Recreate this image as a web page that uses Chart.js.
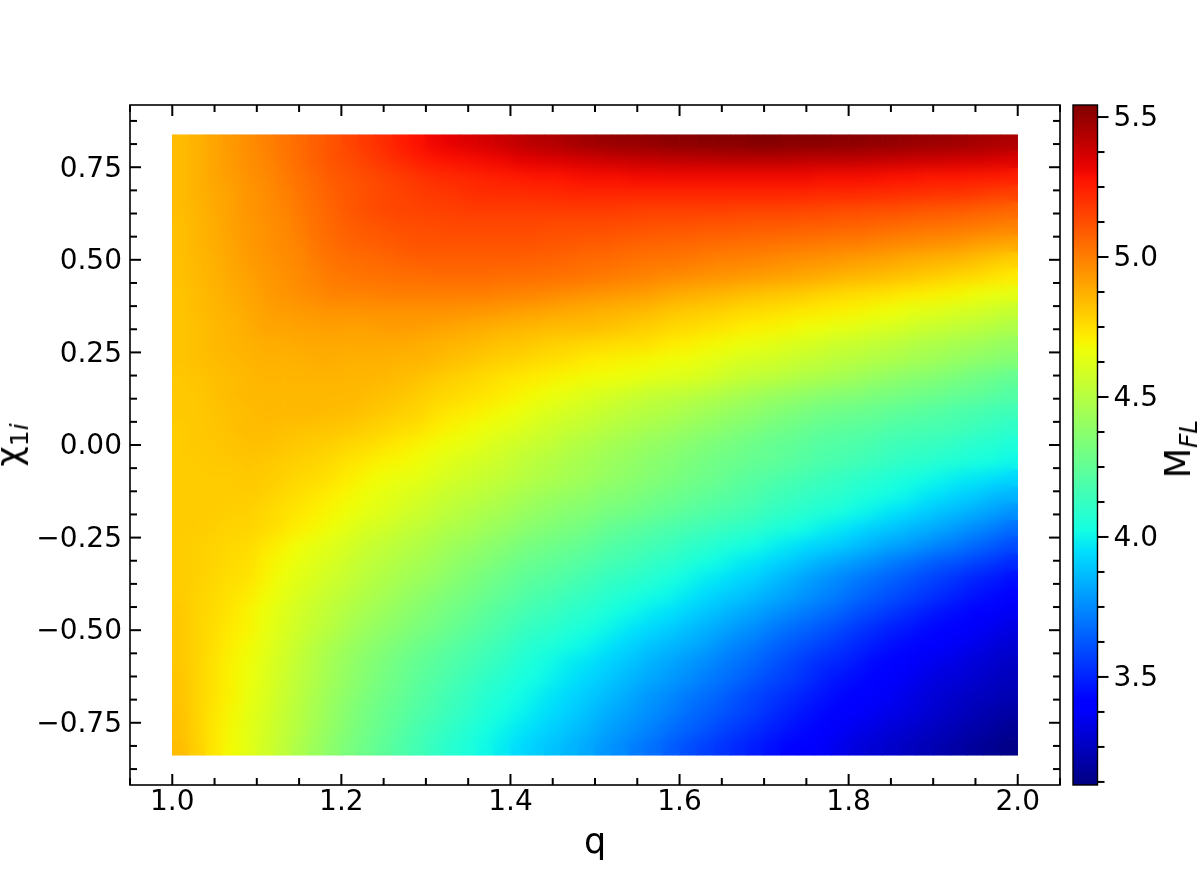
<!DOCTYPE html>
<html>
<head>
<meta charset="utf-8">
<title>M_FL map</title>
<script src="https://cdn.jsdelivr.net/npm/chart.js@4"></script>
<style>
  html, body { margin: 0; padding: 0; background: #fff; }
  #wrap { position: relative; width: 1200px; height: 882px; overflow: hidden; font-family: "DejaVu Sans", sans-serif; color: #000; }
  canvas { position: absolute; top: 0; }
  #mainChart { left: 0; }
  #barChart { left: 1060px; }
  .axisLabel { position: absolute; font-size: 35px; line-height: 40px; white-space: nowrap; transform: translate(-50%, -50%) rotate(-90deg); }
  .axisLabel sub { font-size: 25px; vertical-align: -7px; line-height: 0; }
  .axisLabel i { font-style: oblique; }
</style>
</head>
<body>
<div id="wrap">
  <canvas id="mainChart" width="1200" height="882"></canvas>
  <canvas id="barChart" width="140" height="882"></canvas>
  <div class="axisLabel" style="left:9px;top:445px">χ<sub>1<i>i</i></sub></div>
  <div class="axisLabel" style="left:1178px;top:449px">M<sub><i>FL</i></sub></div>
</div>
<script>
// cell centres of the colour map
const qCells = [1.01,1.03,1.05,1.07,1.09,1.11,1.13,1.15,1.17,1.19,1.21,1.23,1.25,1.27,1.29,1.31,1.33,1.35,1.37,1.39,1.41,1.43,1.45,1.47,1.49,1.51,1.53,1.55,1.57,1.59,1.61,1.63,1.65,1.67,1.69,1.71,1.73,1.75,1.77,1.79,1.81,1.83,1.85,1.87,1.89,1.91,1.93,1.95,1.97,1.99];
const chiCells = [0.815,0.769,0.724,0.679,0.633,0.588,0.543,0.498,0.452,0.407,0.362,0.317,0.271,0.226,0.181,0.136,0.090,0.045,0,-0.045,-0.090,-0.136,-0.181,-0.226,-0.271,-0.317,-0.362,-0.407,-0.452,-0.498,-0.543,-0.588,-0.633,-0.679,-0.724,-0.769,-0.815];

// M_FL x 100, one row per chi (top to bottom)
const mflRows = [
[484,487,490,493,496,499,502,505,508,511,515,518,521,525,528,531,533,535,537,539,541,543,544,546,548,549,550,550,551,552,552,553,553,553,554,554,553,553,553,552,552,551,551,550,549,549,548,547,546,545],
[484,487,490,493,496,498,501,505,508,511,513,516,519,522,525,527,528,529,530,531,533,534,535,536,537,538,539,540,540,541,541,541,542,542,542,542,542,541,541,541,541,540,540,539,538,538,537,537,536,535],
[484,487,490,492,495,497,500,503,506,509,511,513,515,517,519,521,522,523,524,525,526,527,527,528,529,529,529,530,530,530,530,530,530,530,530,530,530,530,529,529,529,529,528,528,527,527,527,526,526,525],
[484,487,489,491,494,496,499,502,505,508,510,512,514,515,517,518,519,520,521,521,521,522,522,523,523,523,523,523,523,523,523,523,523,523,523,523,523,523,522,522,522,521,521,520,520,519,519,518,517,516],
[484,486,489,491,494,496,498,501,504,507,510,512,514,515,515,516,516,517,517,517,517,517,517,517,517,517,517,516,516,516,516,516,516,515,515,515,515,514,514,513,513,512,512,511,510,510,509,508,507,506],
[483,486,488,491,493,495,497,500,503,506,508,510,511,512,513,513,514,514,514,514,514,514,513,513,513,513,512,512,511,511,511,510,510,510,509,509,509,508,508,507,507,506,505,504,503,503,502,501,500,499],
[483,486,488,490,493,495,497,499,502,505,507,508,509,510,511,511,511,511,511,511,511,511,510,510,509,509,508,507,507,506,506,505,505,504,504,503,502,502,501,500,500,499,498,497,496,495,494,492,491,490],
[483,485,487,490,492,494,496,498,500,503,504,505,506,507,508,508,508,508,508,508,508,507,507,506,505,505,504,503,502,502,501,500,499,499,498,497,496,495,494,493,492,491,490,488,487,486,485,483,481,479],
[483,485,487,489,491,493,495,497,499,501,502,503,503,504,504,505,505,505,505,504,504,504,503,503,502,501,500,499,498,497,496,495,494,493,492,491,490,489,488,486,485,484,483,482,480,479,477,476,474,472],
[482,484,486,488,490,492,494,496,497,499,499,499,500,500,500,500,500,500,500,499,499,498,497,496,495,494,493,492,491,489,488,487,486,484,483,482,481,480,478,477,476,475,474,472,471,470,469,467,466,464],
[482,484,486,487,489,491,492,493,494,495,495,495,495,495,495,495,495,494,494,493,492,491,490,489,488,487,486,485,484,482,481,480,479,477,476,475,474,473,472,471,470,468,467,465,463,462,460,459,457,455],
[482,483,485,486,488,490,490,491,491,492,491,491,492,492,492,491,490,489,488,487,486,485,484,484,484,483,482,480,479,477,476,475,474,472,471,470,469,467,466,464,463,461,460,458,456,455,453,452,450,448],
[482,483,485,486,487,488,488,489,489,489,489,489,489,489,488,487,486,485,484,482,482,480,479,478,477,476,475,475,474,472,471,469,468,466,465,463,461,460,458,456,455,453,452,450,448,447,445,444,442,440],
[482,483,484,485,486,487,487,487,488,488,487,487,487,486,486,485,483,482,480,479,478,476,475,474,472,471,470,469,468,467,466,464,462,460,459,458,456,454,453,451,450,448,447,445,444,442,440,438,437,435],
[481,482,483,484,485,486,486,486,486,486,486,486,485,484,483,481,479,478,476,474,473,472,470,469,468,467,466,465,463,462,461,459,457,455,453,452,450,448,447,445,443,441,439,437,436,434,432,430,428,426],
[481,481,483,484,485,485,485,485,485,485,485,484,483,482,480,478,477,475,474,472,470,468,466,464,462,460,458,456,454,453,452,450,448,446,444,442,441,439,437,436,435,433,432,431,429,428,426,425,423,421],
[481,481,482,483,484,485,485,485,485,484,484,482,481,479,478,475,473,472,470,468,466,463,461,459,457,455,453,451,450,448,446,444,442,440,438,436,434,432,430,429,428,427,425,424,422,421,419,418,416,415],
[480,481,482,483,484,484,483,483,482,482,481,479,478,476,475,472,470,468,466,464,462,459,457,455,453,451,449,447,445,443,441,439,437,435,433,431,429,427,425,424,423,422,420,419,418,417,416,414,412,410],
[480,481,481,482,483,483,482,481,480,479,477,476,474,472,470,468,466,464,462,459,457,455,453,450,448,446,444,442,440,438,436,434,432,430,428,426,425,423,421,420,419,417,415,414,413,412,410,408,407,405],
[480,480,481,481,482,481,480,479,478,476,474,472,470,469,467,464,462,460,458,456,453,451,449,447,445,443,441,439,437,435,433,431,429,428,426,425,423,421,419,418,416,414,412,410,409,407,406,404,403,401],
[480,480,480,480,481,480,479,477,476,474,471,469,467,465,464,461,459,457,455,453,451,449,447,445,443,441,439,437,435,433,431,429,427,424,422,420,418,416,414,412,410,408,406,404,402,400,398,397,395,393],
[480,480,480,480,480,479,477,475,473,471,469,466,464,462,460,457,455,453,451,449,446,444,442,440,439,436,435,433,431,429,427,425,423,421,419,416,414,412,410,409,406,404,402,400,397,395,392,390,387,385],
[480,480,480,479,479,477,475,473,471,469,466,464,462,459,457,454,452,449,447,445,442,440,438,436,435,432,431,429,427,425,423,421,419,417,415,412,410,408,406,404,401,399,396,394,391,388,386,383,380,377],
[480,480,479,478,478,476,474,471,469,466,463,460,458,455,453,450,448,446,443,441,438,436,434,432,430,427,425,423,421,419,417,415,413,411,409,406,404,402,399,397,394,391,389,386,384,381,378,375,372,368],
[480,479,478,477,476,473,470,467,464,462,459,456,453,451,449,446,443,441,438,436,433,431,429,427,425,422,420,418,416,414,411,409,406,404,402,399,397,394,392,390,387,384,381,379,376,373,370,367,364,360],
[480,479,478,476,475,471,468,465,462,460,456,453,451,448,446,443,440,437,435,432,429,427,425,423,421,418,416,414,411,409,406,403,401,398,396,393,390,387,384,381,378,375,372,369,366,363,361,358,355,352],
[480,479,477,475,474,470,466,463,460,457,454,451,448,445,443,440,437,434,431,428,425,423,421,419,416,413,411,409,407,404,401,398,396,393,391,387,384,380,377,374,371,368,365,362,359,356,353,350,348,345],
[480,478,476,474,472,468,464,460,457,454,451,448,445,442,439,436,433,431,428,425,422,419,417,414,412,409,407,404,402,400,397,394,391,389,386,383,380,377,374,371,367,364,361,358,355,352,349,346,344,341],
[481,478,476,473,470,466,462,458,455,452,448,445,442,439,436,433,430,427,424,421,418,415,413,410,408,405,402,400,397,395,392,389,386,383,380,377,374,371,368,365,361,358,355,352,349,346,344,341,339,336],
[481,478,475,472,470,465,461,457,453,450,445,442,439,436,433,430,427,424,421,418,414,411,409,406,404,401,398,395,393,390,387,384,381,378,375,371,368,365,362,359,355,352,349,347,344,342,340,337,335,332],
[481,478,475,471,468,464,459,455,450,446,442,439,435,432,429,426,423,420,417,414,410,407,405,402,400,397,394,391,388,385,383,380,376,373,370,366,363,360,357,354,351,348,345,343,340,338,336,334,331,329],
[481,478,474,470,467,462,458,453,449,444,440,436,433,429,426,423,420,417,414,411,407,404,401,398,396,393,390,387,384,381,378,375,372,369,366,362,359,355,352,350,347,344,341,339,336,334,332,330,328,326],
[482,478,474,470,466,462,457,452,448,443,439,435,431,428,424,421,418,414,411,408,404,402,399,396,393,390,387,384,381,378,375,372,369,366,362,359,356,353,349,346,344,341,338,336,333,331,330,328,326,324],
[482,478,474,470,465,461,456,451,446,441,437,433,429,426,422,419,415,412,408,405,402,399,396,393,390,387,384,380,377,374,371,368,365,361,358,355,352,349,346,343,341,338,336,333,331,329,327,325,324,322],
[483,478,473,469,464,460,455,450,445,440,435,431,427,424,420,417,413,410,406,403,400,397,394,391,388,384,381,378,375,372,368,365,362,359,356,352,349,346,343,341,338,336,334,332,330,327,325,323,321,319],
[483,478,473,468,463,459,454,449,444,439,434,430,426,422,418,414,411,407,403,400,397,394,391,388,385,381,378,375,372,368,365,362,358,355,352,349,346,343,340,337,334,332,330,328,326,324,322,320,318,316],
[484,479,473,468,463,458,453,447,442,437,432,428,424,420,416,412,408,405,401,398,394,391,388,385,382,378,375,371,368,364,360,357,354,351,348,345,342,340,337,334,331,329,327,325,323,321,319,317,315,313]
];

// axes
const xMajor = [1.0, 1.2, 1.4, 1.6, 1.8, 2.0];
const xMinor = [0.95,1.05,1.1,1.15,1.25,1.3,1.35,1.45,1.5,1.55,1.65,1.7,1.75,1.85,1.9,1.95,2.05];
const yMajor = [-0.75, -0.5, -0.25, 0, 0.25, 0.5, 0.75];
const yMinor = [-0.875,-0.8125,-0.6875,-0.625,-0.5625,-0.4375,-0.375,-0.3125,-0.1875,-0.125,-0.0625,0.0625,0.125,0.1875,0.3125,0.375,0.4375,0.5625,0.625,0.6875,0.8125,0.875];
const barMajor = [3.5, 4.0, 4.5, 5.0, 5.5];
const barMinor = [3.125,3.25,3.375,3.625,3.75,3.875,4.125,4.25,4.375,4.625,4.75,4.875,5.125,5.25,5.375];

const mflMin = 3.114;
const mflMax = 5.543;
const FONT = '"DejaVu Sans", sans-serif';

// matplotlib jet
function jet(t) {
    t = Math.max(0, Math.min(1, t));
    let r = t < 0.35 ? 0 : t < 0.66 ? (t - 0.35) / 0.31 : t < 0.89 ? 1 : 1 - (t - 0.89) / 0.11 * 0.5;
    let g = t < 0.125 ? 0 : t < 0.375 ? (t - 0.125) / 0.25 : t < 0.64 ? 1 : t < 0.91 ? 1 - (t - 0.64) / 0.27 : 0;
    let b = t < 0.11 ? 0.5 + t / 0.11 * 0.5 : t < 0.34 ? 1 : t < 0.65 ? 1 - (t - 0.34) / 0.31 : 0;
    return `rgb(${Math.round(r * 255)},${Math.round(g * 255)},${Math.round(b * 255)})`;
}
function mflColor(v) {
    return jet((v - mflMin) / (mflMax - mflMin));
}

const points = [];
const pointColors = [];
chiCells.forEach((chi, i) => {
    qCells.forEach((q, j) => {
        const v = mflRows[i][j] / 100;
        points.push({ x: q, y: chi });
        pointColors.push(mflColor(v));
    });
});

function tick(ctx, x1, y1, x2, y2) {
    ctx.beginPath();
    ctx.moveTo(x1, y1);
    ctx.lineTo(x2, y2);
    ctx.stroke();
}

// soften the cell steps, the reference map has much finer markers
const softenCells = {
    id: 'softenCells',
    afterDatasetsDraw(chart) {
        const { ctx, canvas, scales } = chart;
        const left = Math.round(scales.x.getPixelForValue(1.0));
        const right = Math.round(scales.x.getPixelForValue(2.0));
        const top = Math.round(scales.y.getPixelForValue(0.837));
        const bottom = Math.round(scales.y.getPixelForValue(-0.837));
        const w = right - left, h = bottom - top;
        const copy = document.createElement('canvas');
        copy.width = w;
        copy.height = h;
        copy.getContext('2d').drawImage(canvas, left, top, w, h, 0, 0, w, h);
        ctx.save();
        ctx.beginPath();
        ctx.rect(left, top, w, h);
        ctx.clip();
        ctx.filter = 'blur(7px)';
        ctx.drawImage(copy, left, top);
        ctx.restore();
    }
};

// inward ticks on all four sides + frame
const frameTicks = {
    id: 'frameTicks',
    afterDraw(chart) {
        const { ctx, chartArea: a, scales } = chart;
        ctx.save();
        ctx.strokeStyle = '#000';
        ctx.lineWidth = 1.6;
        ctx.strokeRect(a.left, a.top, a.right - a.left, a.bottom - a.top);
        ctx.lineWidth = 2;
        const drawX = (vals, len) => vals.forEach(v => {
            const px = scales.x.getPixelForValue(v);
            tick(ctx, px, a.bottom, px, a.bottom - len);
            tick(ctx, px, a.top, px, a.top + len);
        });
        const drawY = (vals, len) => vals.forEach(v => {
            const py = scales.y.getPixelForValue(v);
            tick(ctx, a.left, py, a.left + len, py);
            tick(ctx, a.right, py, a.right - len, py);
        });
        drawX(xMajor, 11); drawX(xMinor, 7);
        drawY(yMajor, 11); drawY(yMinor, 7);
        ctx.restore();
    }
};

// colour bar ticks, outward on the right
const barTicks = {
    id: 'barTicks',
    afterDraw(chart) {
        const { ctx, chartArea: a, scales } = chart;
        ctx.save();
        ctx.strokeStyle = '#000';
        ctx.lineWidth = 1.4;
        ctx.strokeRect(a.left, a.top, a.right - a.left, a.bottom - a.top);
        ctx.lineWidth = 2;
        const draw = (vals, len) => vals.forEach(v => {
            const py = scales.y.getPixelForValue(v);
            tick(ctx, a.right, py, a.right + len, py);
        });
        draw(barMajor, 11); draw(barMinor, 7);
        ctx.restore();
    }
};

new Chart(document.getElementById('mainChart'), {
    type: 'scatter',
    data: {
        datasets: [{
            label: 'M_FL',
            data: points,
            pointStyle: 'rect',
            pointRadius: 12.3,
            pointBorderWidth: 0,
            pointBackgroundColor: pointColors
        }]
    },
    options: {
        responsive: false,
        animation: false,
        events: [],
        layout: { padding: { top: 105, right: 140, left: 0, bottom: 0 } },
        plugins: { legend: { display: false }, tooltip: { enabled: false } },
        scales: {
            x: {
                type: 'linear',
                min: 0.95,
                max: 2.05,
                grid: { display: false, drawTicks: false },
                border: { display: false },
                afterBuildTicks: scale => { scale.ticks = xMajor.map(v => ({ value: v })); },
                afterFit: scale => { scale.height = 97; },
                ticks: {
                    color: '#000',
                    padding: 1,
                    maxRotation: 0,
                    autoSkip: false,
                    font: { family: FONT, size: 28 },
                    callback: v => v.toFixed(1)
                },
                title: {
                    display: true,
                    text: 'q',
                    color: '#000',
                    padding: { top: 2, bottom: 17 },
                    font: { family: FONT, size: 35 }
                }
            },
            y: {
                type: 'linear',
                min: -0.918,
                max: 0.918,
                grid: { display: false, drawTicks: false },
                border: { display: false },
                afterBuildTicks: scale => { scale.ticks = yMajor.map(v => ({ value: v })); },
                afterFit: scale => { scale.width = 130; },
                ticks: {
                    color: '#000',
                    padding: 8,
                    labelOffset: 2,
                    autoSkip: false,
                    font: { family: FONT, size: 28 },
                    callback: v => v.toFixed(2).replace('-', '\u2212')
                }
            }
        }
    },
    plugins: [softenCells, frameTicks]
});

new Chart(document.getElementById('barChart'), {
    type: 'bar',
    data: {
        labels: ['M_FL'],
        datasets: [{
            data: [[mflMin, mflMax]],
            barPercentage: 1,
            categoryPercentage: 1,
            borderWidth: 0,
            backgroundColor: c => {
                const a = c.chart.chartArea;
                if (!a) return '#000';
                const g = c.chart.ctx.createLinearGradient(0, a.bottom, 0, a.top);
                for (let i = 0; i <= 64; i++) g.addColorStop(i / 64, jet(i / 64));
                return g;
            }
        }]
    },
    options: {
        responsive: false,
        animation: false,
        events: [],
        layout: { padding: { top: 105, bottom: 97, left: 13, right: 0 } },
        plugins: { legend: { display: false }, tooltip: { enabled: false } },
        scales: {
            x: { display: false },
            y: {
                position: 'right',
                min: mflMin,
                max: mflMax,
                grid: { display: false, drawTicks: false },
                border: { display: false },
                afterBuildTicks: scale => { scale.ticks = barMajor.map(v => ({ value: v })); },
                afterFit: scale => { scale.width = 102.5; },
                ticks: {
                    color: '#000',
                    padding: 16,
                    labelOffset: 2,
                    autoSkip: false,
                    font: { family: FONT, size: 28 },
                    callback: v => v.toFixed(1)
                }
            }
        }
    },
    plugins: [barTicks]
});
</script>
</body>
</html>
